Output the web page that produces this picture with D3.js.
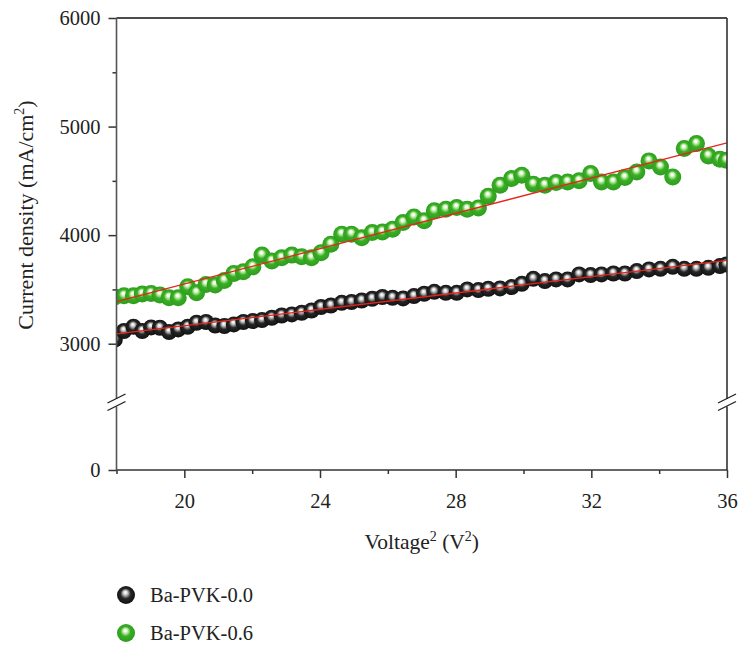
<!DOCTYPE html>
<html>
<head>
<meta charset="utf-8">
<script src="https://cdn.jsdelivr.net/npm/d3@7"></script>
<style>
  body { margin: 0; background: #fff; }
  svg text { font-family: "Liberation Serif", "DejaVu Serif", serif; fill: #222; }
</style>
</head>
<body>
<svg width="740" height="645"></svg>
<script>
// voltage^2 values, shared by both samples
var xVals = [17.95, 18.22, 18.50, 18.76, 19.02, 19.28, 19.55, 19.82, 20.10, 20.36,
             20.64, 20.91, 21.18, 21.46, 21.74, 22.02, 22.29, 22.58, 22.87, 23.17,
             23.46, 23.75, 24.03, 24.32, 24.64, 24.93, 25.23, 25.54, 25.84, 26.14,
             26.45, 26.77, 27.07, 27.37, 27.71, 28.03, 28.34, 28.67, 28.96, 29.31,
             29.65, 29.95, 30.29, 30.63, 30.96, 31.30, 31.64, 31.98, 32.30, 32.65,
             32.99, 33.34, 33.70, 34.04, 34.40, 34.74, 35.10, 35.45, 35.79, 35.98];

var pvk00 = [3037, 3117, 3156, 3117, 3150, 3147, 3108, 3132, 3156, 3193,
             3200, 3168, 3163, 3178, 3200, 3209, 3218, 3239, 3260, 3270,
             3285, 3306, 3338, 3352, 3377, 3384, 3398, 3414, 3430, 3423,
             3417, 3439, 3460, 3478, 3469, 3469, 3500, 3494, 3506, 3509,
             3522, 3552, 3598, 3577, 3592, 3592, 3638, 3632, 3638, 3647,
             3647, 3669, 3684, 3690, 3708, 3690, 3690, 3699, 3715, 3730];

var pvk06 = [3432, 3441, 3441, 3457, 3463, 3448, 3423, 3423, 3524, 3469,
             3546, 3540, 3582, 3647, 3662, 3708, 3816, 3761, 3791, 3816,
             3800, 3791, 3837, 3917, 4009, 4009, 3975, 4024, 4030, 4055,
             4116, 4168, 4132, 4224, 4239, 4254, 4239, 4251, 4359, 4460,
             4521, 4552, 4469, 4460, 4484, 4490, 4500, 4567, 4490, 4490,
             4530, 4582, 4684, 4628, 4536, 4797, 4843, 4730, 4699, 4690];

var seriesNames = ['Ba-PVK-0.0', 'Ba-PVK-0.6'];
var xTicks = [20, 24, 28, 32, 36];
var xMinor = [18, 22, 26, 30, 34];
var yTicks = [0, 3000, 4000, 5000, 6000];
var yMinor = [3500, 4500, 5500];

var pl = 116.5, pr = 727, pt = 18, pb = 470;

var svg = d3.select('svg');

var x = d3.scaleLinear()
    .domain([18, 36])
    .range([pl, pr]);

// broken axis: 0..2500 squeezed, 2500..6000 full scale
var y = d3.scaleLinear()
    .domain([0, 2500, 6000])
    .range([pb, 398, pt]);

var defs = svg.append('defs');

function ball(id, stops) {
    var g = defs.append('radialGradient')
        .attr('id', id)
        .attr('cx', 0.5).attr('cy', 0.5)
        .attr('fx', 0.46).attr('fy', 0.34)
        .attr('r', 0.55);
    stops.forEach(function(s) {
        g.append('stop').attr('offset', s[0]).attr('stop-color', s[1]);
    });
}
ball('ballBlack', [[0, '#ffffff'], [0.16, '#e4e4e4'], [0.34, '#8a8a8a'], [0.52, '#262626'], [1, '#0e0e0e']]);
ball('ballGreen', [[0, '#ffffff'], [0.15, '#f0faea'], [0.33, '#96dc78'], [0.5, '#3aae27'], [1, '#2b9a1b']]);

defs.append('clipPath').attr('id', 'plotClip')
  .append('rect')
    .attr('x', pl).attr('y', pt)
    .attr('width', pr - pl).attr('height', pb - pt);

var pts0 = xVals.map(function(v, i) { return { x: v, y: pvk00[i] }; });
var pts6 = xVals.map(function(v, i) { return { x: v, y: pvk06[i] }; });

var plot = svg.append('g').attr('clip-path', 'url(#plotClip)');

plot.selectAll('circle.g6')
    .data(pts6)
    .enter()
    .append('circle')
    .attr('class', 'g6')
    .attr('cx', function(d) { return x(d.x); })
    .attr('cy', function(d) { return y(d.y); })
    .attr('r', 8.5)
    .style('fill', 'url(#ballGreen)');

plot.selectAll('circle.g0')
    .data(pts0)
    .enter()
    .append('circle')
    .attr('class', 'g0')
    .attr('cx', function(d) { return x(d.x); })
    .attr('cy', function(d) { return y(d.y); })
    .attr('r', 8)
    .style('fill', 'url(#ballBlack)');

// least squares fit lines
function fit(pts) {
    var mx = d3.mean(pts, function(d) { return d.x; });
    var my = d3.mean(pts, function(d) { return d.y; });
    var sxy = d3.sum(pts, function(d) { return (d.x - mx) * (d.y - my); });
    var sxx = d3.sum(pts, function(d) { return (d.x - mx) * (d.x - mx); });
    var b = sxy / sxx, a = my - b * mx;
    return [18, 36].map(function(v) { return { x: v, y: a + b * v }; });
}

var line = d3.line()
    .x(function(d) { return x(d.x); })
    .y(function(d) { return y(d.y); });

[pts0, pts6].forEach(function(p) {
    plot.append('path')
        .attr('d', line(fit(p)))
        .style('fill', 'none')
        .style('stroke', '#e8231b')
        .style('stroke-width', 1.3);
});

// axes
svg.append('g')
    .attr('transform', 'translate(0,' + pb + ')')
    .call(d3.axisBottom(x).tickValues(xTicks).tickSize(8).tickPadding(15).tickFormat(d3.format('d')));
svg.append('g')
    .attr('transform', 'translate(0,' + pb + ')')
    .call(d3.axisBottom(x).tickValues(xMinor).tickSize(4).tickFormat(''));

svg.append('g')
    .attr('transform', 'translate(' + pl + ',0)')
    .call(d3.axisLeft(y).tickValues(yTicks).tickSize(8).tickPadding(8).tickFormat(d3.format('d')));
svg.append('g')
    .attr('transform', 'translate(' + pl + ',0)')
    .call(d3.axisLeft(y).tickValues(yMinor).tickSize(4).tickFormat(''));

svg.selectAll('.domain').remove();
svg.selectAll('.tick line').style('stroke', '#333').style('stroke-width', 1.5);
svg.selectAll('.tick text').style('font-size', '20.5px').style('fill', '#222');

var frame = svg.append('g').style('stroke', '#333').style('stroke-width', 1.6);
frame.append('line').attr('x1', pl).attr('x2', pr).attr('y1', pt).attr('y2', pt).style('stroke', '#111');
frame.append('line').attr('x1', pl).attr('x2', pr).attr('y1', pb).attr('y2', pb);
frame.append('line').attr('x1', pl).attr('x2', pl).attr('y1', pt).attr('y2', pb).style('stroke', '#555');
frame.append('line').attr('x1', pr).attr('x2', pr).attr('y1', pt).attr('y2', pb);

// axis break marks
var yb = y(2500);
[pl, pr].forEach(function(ax) {
    svg.append('rect')
        .attr('x', ax - 3).attr('y', yb + 1)
        .attr('width', 6).attr('height', 7.5)
        .style('fill', '#fff');
    [yb + 0.5, yb + 8].forEach(function(c) {
        svg.append('line')
            .attr('x1', ax - 9).attr('y1', c + 4.5)
            .attr('x2', ax + 9).attr('y2', c - 4.5)
            .style('stroke', '#222')
            .style('stroke-width', 1.3);
    });
});

// axis titles
var xt = svg.append('text')
    .attr('x', (pl + pr) / 2)
    .attr('y', 549)
    .attr('text-anchor', 'middle')
    .style('font-size', '21.5px');
xt.append('tspan').text('Voltage');
xt.append('tspan').attr('dy', -8).style('font-size', '14px').text('2');
xt.append('tspan').attr('dy', 8).text(' (V');
xt.append('tspan').attr('dy', -8).style('font-size', '14px').text('2');
xt.append('tspan').attr('dy', 8).text(')');

var yt = svg.append('text')
    .attr('transform', 'translate(33,215)rotate(-90)')
    .attr('text-anchor', 'middle')
    .style('font-size', '22px');
yt.append('tspan').text('Current density (mA/cm');
yt.append('tspan').attr('dy', -9).style('font-size', '14px').text('2');
yt.append('tspan').attr('dy', 9).text(')');

// legend
var legend = svg.selectAll('g.legend')
    .data(seriesNames)
    .enter()
    .append('g')
    .attr('class', 'legend')
    .attr('transform', function(d, i) { return 'translate(126,' + (595 + i * 38) + ')'; });

legend.append('circle')
    .attr('r', 9)
    .style('fill', function(d, i) { return i === 0 ? 'url(#ballBlack)' : 'url(#ballGreen)'; });

legend.append('text')
    .attr('x', 24)
    .attr('y', 6.5)
    .style('font-size', '20.5px')
    .text(function(d) { return d; });
</script>
</body>
</html>
